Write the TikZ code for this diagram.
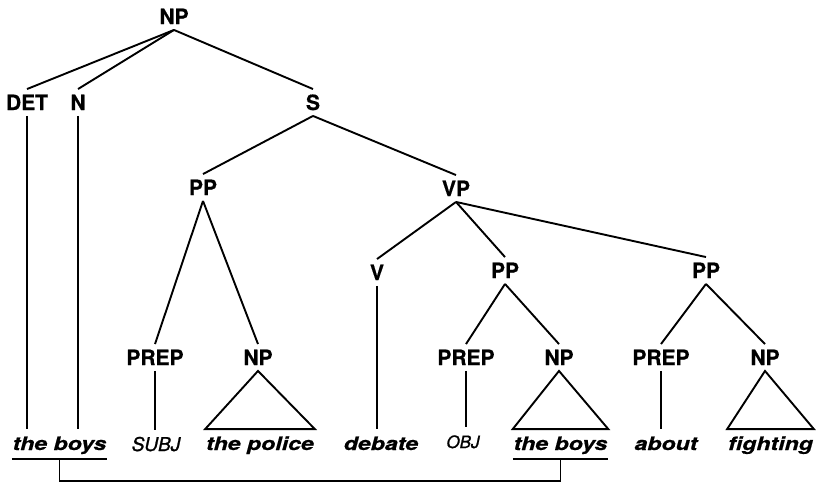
\documentclass[tikz,border=0pt]{standalone}
\usepackage{fontspec}
\newfontfamily\labfont{TeX Gyre Heros}[FakeBold=0.6]
\newfontfamily\wrdfont{TeX Gyre Heros}[FakeStretch=1.25,FakeBold=0.6]
\newfontfamily\gapfont{TeX Gyre Heros}[FakeBold=1.2]
\begin{document}
\begin{tikzpicture}[x=1pt,y=-1pt,line width=1.9pt,line join=miter,
  lab/.style={font=\labfont\bfseries\fontsize{21}{21}\selectfont,anchor=base,
    text height=15pt,text depth=0pt,inner xsep=1pt,inner ysep=5pt},
  wd/.style={font=\wrdfont\bfseries\itshape\fontsize{18.5}{18.5}\selectfont,anchor=base,
    text height=14pt,text depth=2pt,inner xsep=0pt,inner ysep=6pt},
  gapwd/.style={font=\gapfont\itshape\fontsize{#1}{#1}\selectfont,anchor=base,
    text height=14pt,text depth=2pt,inner xsep=0pt,inner ysep=6pt}]
\useasboundingbox (0,0) rectangle (816,482);
% labels
\node[lab] (np0) at (174,24) {NP};
\node[lab] (det) at (27,110) {DET};
\node[lab] (n) at (78,110) {N};
\node[lab] (s) at (313,110) {S};
\node[lab] (pp1) at (203,195) {PP};
\node[lab] (vp) at (456,196) {VP};
\node[lab] (v) at (377,280) {V};
\node[lab] (pp2) at (505,278) {PP};
\node[lab] (pp3) at (706,278) {PP};
\node[lab] (prep1) at (155,365) {PREP};
\node[lab] (np1) at (258,365) {NP};
\node[lab] (prep2) at (466,365) {PREP};
\node[lab] (np2) at (559,365) {NP};
\node[lab] (prep3) at (661,365) {PREP};
\node[lab] (np3) at (765,365) {NP};
% words
\node[wd] (w1) at (59.5,450) {the boys};
\node[gapwd=19] (subj) at (156,451) {SUBJ};
\node[wd] (w3) at (260,450) {the police};
\node[wd] (w4) at (381,450) {debate};
\node[gapwd=17] (obj) at (463,448) {OBJ};
\node[wd] (w6) at (560.5,450) {the boys};
\node[wd] (w7) at (666,450) {about};
\node[wd] (w8) at (770.5,450) {fighting};
% branches
\draw (np0.south) -- (det.north);
\draw (np0.south) -- (n.north);
\draw (np0.south) -- (s.north);
\draw (s.south) -- (pp1.north);
\draw (s.south) -- (vp.north);
\draw (pp1.south) -- (prep1.north);
\draw (pp1.south) -- (np1.north);
\draw (vp.south) -- (v.north);
\draw (vp.south) -- (pp2.north);
\draw (vp.south) -- (pp3.north);
\draw (pp2.south) -- (prep2.north);
\draw (pp2.south) -- (np2.north);
\draw (pp3.south) -- (prep3.north);
\draw (pp3.south) -- (np3.north);
% terminals
\draw (det.south) -- (det.south |- w1.north);
\draw (n.south) -- (n.south |- w1.north);
\draw (prep1.south) -- (prep1.south |- subj.north);
\draw (v.south) -- (v.south |- w4.north);
\draw (prep2.south) -- (prep2.south |- obj.north);
\draw (prep3.south) -- (prep3.south |- w7.north);
% triangles
\draw (np1.south) -- (w3.north east) -- (w3.north west) -- cycle;
\draw (np2.south) -- (w6.north east) -- (w6.north west) -- cycle;
\draw (np3.south) -- (w8.north east) -- (w8.north west) -- cycle;
% underlines and link
\draw (w1.south west) -- (w1.south east);
\draw (w6.south west) -- (w6.south east);
\draw (w1.south) -- ++(0,22) -| (w6.south);
\end{tikzpicture}
\end{document}
